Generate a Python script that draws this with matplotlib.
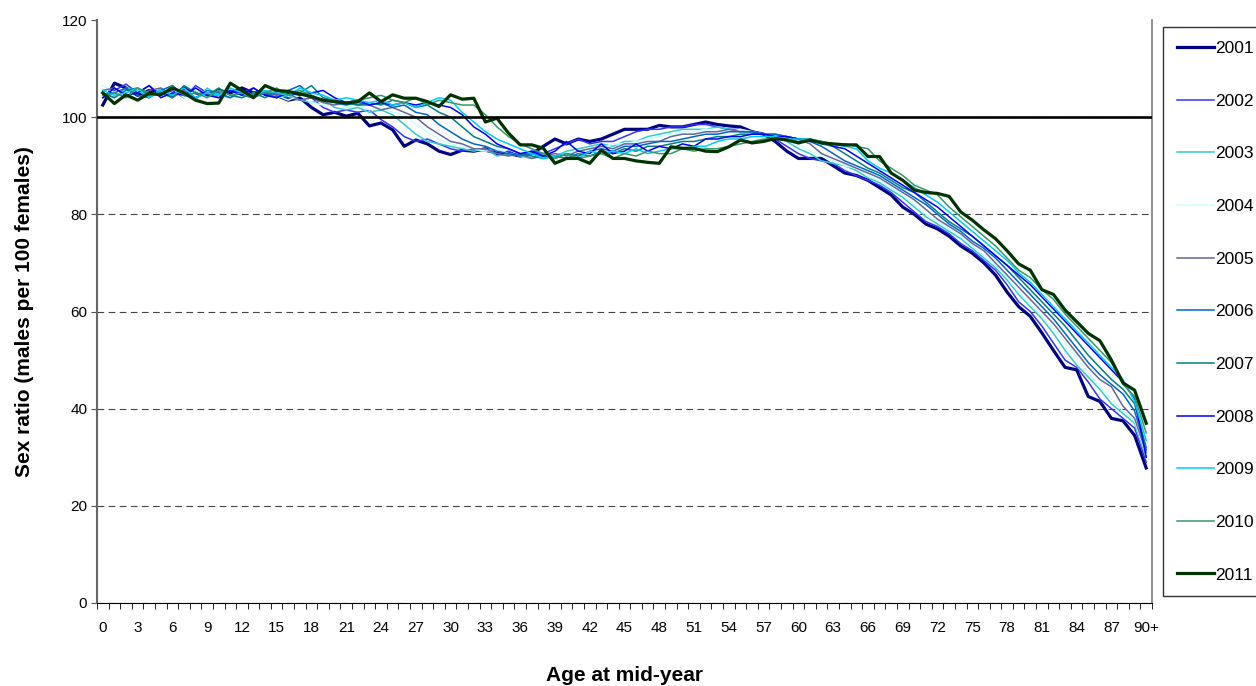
import numpy as np
import matplotlib.pyplot as plt
from matplotlib.lines import Line2D

# Sex ratio (males per 100 females) by single year of age, 0..90+
ages = list(range(91))
age_labels = [str(a) if a < 90 else "90+" for a in ages]
years = ["2001", "2002", "2003", "2004", "2005", "2006", "2007", "2008", "2009", "2010", "2011"]

r2001 = [102.5, 107.0, 106.0, 104.5, 105.5, 105.0, 104.5, 106.0, 105.0, 104.5,
         105.5, 105.0, 106.0, 105.0, 105.0, 104.5, 103.5, 104.0, 102.0, 100.5,
         101.0, 100.2, 100.8, 98.2, 98.8, 97.4, 94.0, 95.3, 94.5, 93.0,
         92.3, 93.2, 93.0, 93.5, 92.5, 92.5, 92.0, 92.5, 94.0, 95.5,
         94.5, 95.5, 95.0, 95.5, 96.5, 97.5, 97.5, 97.5, 98.3, 98.0,
         98.0, 98.5, 99.0, 98.5, 98.2, 98.0, 97.0, 96.5, 95.0, 93.0,
         91.5, 91.5, 91.5, 90.0, 88.5, 88.0, 87.0, 85.5, 84.0, 81.5,
         80.0, 78.0, 77.0, 75.5, 73.5, 72.0, 70.0, 67.5, 64.0, 61.0,
         59.0, 55.6, 52.0, 48.5, 48.0, 42.5, 41.5, 38.0, 37.5, 34.5, 27.8]

r2002 = [104.0, 105.5, 106.8, 105.0, 106.5, 104.5, 105.5, 104.0, 106.5, 105.0,
         104.5, 105.5, 105.0, 106.0, 104.5, 105.0, 104.0, 103.5, 104.0, 102.0,
         101.0, 101.5, 101.0, 101.5, 99.5, 98.0, 96.0, 95.0, 95.5, 94.5,
         93.5, 93.0, 93.5, 93.0, 92.5, 93.0, 92.0, 93.0, 92.5, 93.5,
         94.5, 95.5, 94.5, 95.0, 95.0, 96.0, 97.0, 97.5, 97.5, 98.0,
         98.0, 98.5, 98.5, 98.0, 97.5, 97.5, 97.0, 96.5, 95.5, 94.0,
         92.5, 91.5, 91.0, 90.5, 89.0, 88.0, 87.0, 86.0, 84.5, 82.5,
         80.5, 78.5, 77.5, 76.0, 74.0, 72.5, 70.5, 68.5, 65.5, 62.0,
         60.0, 57.0, 53.5, 50.0, 48.5, 45.5, 42.0, 40.0, 38.0, 36.0, 29.0]

r2003 = [105.0, 104.0, 106.0, 105.5, 104.0, 106.0, 104.5, 105.0, 103.5, 106.0,
         104.5, 104.0, 105.0, 104.5, 105.5, 104.0, 104.5, 103.5, 103.0, 103.5,
         102.0, 101.5, 102.0, 101.0, 101.5, 100.5, 98.5, 96.5, 95.0, 94.5,
         94.0, 93.5, 93.0, 93.5, 92.0, 92.5, 92.0, 91.5, 92.5, 92.0,
         93.0, 93.5, 94.0, 94.5, 94.0, 95.0, 95.0, 96.0, 96.5, 97.0,
         97.5, 97.5, 97.5, 98.0, 97.5, 97.0, 97.0, 96.5, 96.0, 95.0,
         93.5, 92.5, 91.0, 90.5, 90.0, 89.0, 87.5, 86.5, 85.0, 83.5,
         81.5, 79.5, 78.0, 76.5, 75.0, 73.0, 71.0, 69.0, 66.5, 63.5,
         61.0, 58.5, 55.5, 52.0, 49.0, 46.5, 44.0, 41.0, 39.0, 37.0, 30.0]

r2004 = [106.5, 105.0, 104.0, 106.0, 105.0, 104.5, 106.0, 104.0, 105.5, 104.0,
         105.5, 104.5, 104.0, 105.0, 104.0, 104.5, 103.5, 104.5, 103.0, 102.5,
         103.0, 102.0, 102.5, 101.5, 102.0, 101.0, 100.5, 98.5, 97.0, 95.5,
         94.5, 94.0, 93.5, 93.0, 93.5, 92.5, 92.0, 92.5, 91.5, 92.0,
         92.5, 93.0, 93.5, 93.5, 94.5, 94.5, 95.0, 95.5, 96.0, 96.5,
         97.0, 97.0, 97.5, 97.5, 97.0, 97.5, 97.0, 96.5, 96.0, 95.5,
         94.5, 93.0, 92.0, 91.0, 90.0, 89.5, 88.0, 87.0, 85.5, 84.0,
         82.0, 80.0, 78.5, 77.0, 75.5, 73.5, 71.5, 69.5, 67.0, 64.0,
         61.5, 59.0, 56.5, 53.5, 50.5, 47.5, 44.5, 42.0, 39.5, 37.5, 30.5]

r2005 = [105.5, 106.0, 104.5, 103.5, 105.5, 106.0, 104.0, 105.5, 104.0, 105.0,
         104.0, 105.5, 104.5, 104.0, 105.0, 104.5, 105.0, 103.5, 104.0, 103.0,
         102.5, 103.0, 102.5, 102.5, 101.5, 102.0, 101.0, 100.0, 98.0, 96.5,
         95.0, 94.5, 93.5, 93.5, 92.5, 92.0, 92.5, 91.5, 92.0, 92.5,
         92.0, 93.0, 93.5, 94.0, 93.5, 94.5, 94.5, 95.0, 95.0, 96.0,
         96.5, 96.5, 97.0, 97.0, 97.5, 97.0, 97.0, 96.5, 96.5, 96.0,
         95.5, 94.5, 92.5, 91.5, 90.5, 89.5, 88.5, 87.5, 86.0, 84.5,
         83.0, 81.0, 79.0, 77.5, 76.0, 74.0, 72.5, 70.0, 67.5, 65.0,
         62.5, 60.0, 57.5, 54.5, 51.5, 48.5, 46.0, 44.5, 40.5, 38.0, 31.0]

r2006 = [104.5, 105.0, 106.0, 104.5, 104.0, 105.5, 106.5, 104.5, 104.0, 105.5,
         105.0, 104.0, 105.5, 104.5, 105.0, 104.0, 105.5, 106.5, 104.5, 103.5,
         103.0, 102.5, 103.0, 102.5, 103.0, 102.0, 102.5, 101.0, 100.5, 98.5,
         97.0, 95.5, 94.5, 94.0, 93.0, 92.5, 92.0, 92.5, 92.0, 91.5,
         92.5, 92.0, 93.0, 93.5, 93.0, 94.0, 94.0, 94.5, 95.0, 95.0,
         95.5, 96.0, 96.5, 96.5, 97.0, 97.0, 97.0, 96.5, 96.5, 96.0,
         95.5, 95.0, 94.0, 92.5, 91.0, 90.0, 89.0, 88.0, 86.5, 85.0,
         83.5, 82.0, 80.0, 78.0, 76.5, 74.5, 73.0, 71.0, 68.5, 66.0,
         63.5, 61.0, 58.5, 55.5, 52.5, 49.5, 47.0, 45.0, 43.0, 39.5, 31.5]

r2007 = [105.0, 104.0, 105.5, 106.0, 104.5, 105.0, 104.0, 106.5, 105.0, 104.5,
         106.0, 104.5, 104.0, 105.0, 104.0, 105.5, 104.5, 105.0, 106.5, 104.0,
         103.5, 103.0, 102.5, 103.0, 102.5, 103.5, 103.0, 102.0, 102.5, 101.0,
         100.0, 98.0, 96.0, 95.0, 94.0, 93.5, 92.5, 92.0, 91.5, 92.0,
         91.5, 92.5, 92.0, 93.0, 92.5, 93.5, 93.0, 94.0, 94.0, 94.5,
         95.0, 95.0, 95.5, 96.0, 96.0, 96.5, 96.5, 96.5, 96.0, 96.0,
         95.5, 95.5, 94.5, 94.0, 92.5, 91.0, 89.5, 88.5, 87.0, 85.5,
         84.5, 82.5, 80.5, 78.5, 77.0, 75.5, 73.5, 71.5, 69.5, 67.0,
         64.5, 62.0, 59.5, 57.0, 54.0, 51.0, 48.5, 46.0, 44.0, 41.0, 32.0]

r2008 = [104.0, 106.0, 104.5, 105.0, 106.5, 104.0, 105.0, 104.5, 106.0, 104.5,
         104.0, 105.5, 104.5, 106.0, 104.5, 104.0, 105.0, 104.5, 105.0, 105.5,
         104.0, 103.0, 103.5, 102.5, 103.0, 102.5, 103.0, 102.5, 103.0, 102.5,
         102.0, 100.5, 98.0, 96.5, 94.5, 93.5, 92.5, 93.0, 92.0, 93.0,
         95.0, 93.0, 92.5, 94.5, 92.5, 93.0, 94.5, 93.0, 94.0, 93.5,
         94.5, 94.0, 95.5, 95.5, 96.0, 96.0, 96.5, 96.5, 96.0, 96.0,
         95.5, 95.0, 95.0, 94.0, 93.5, 92.0, 90.5, 89.0, 87.5, 86.0,
         84.5, 83.0, 81.5, 79.5, 77.5, 75.5, 73.5, 71.5, 69.5, 67.5,
         65.5, 63.0, 60.5, 58.0, 55.5, 53.0, 50.5, 48.0, 45.5, 42.0, 30.0]

r2009 = [105.5, 104.5, 105.0, 106.0, 104.0, 105.5, 104.5, 106.0, 104.0, 105.0,
         104.5, 106.0, 105.0, 104.0, 105.5, 105.0, 104.5, 106.0, 105.0, 104.5,
         103.5, 104.0, 103.5, 103.0, 103.5, 102.5, 103.0, 102.0, 103.0, 104.0,
         103.5, 101.0, 99.0, 97.0, 95.5, 94.5, 93.5, 92.5, 91.5, 92.0,
         92.5, 91.5, 93.0, 92.5, 93.0, 92.5, 93.5, 92.5, 93.0, 93.5,
         93.5, 94.0, 94.0, 95.0, 95.5, 95.5, 96.0, 96.0, 96.0, 95.5,
         95.5, 95.5, 95.0, 94.5, 94.0, 93.5, 91.0, 89.5, 88.5, 87.0,
         85.5, 84.0, 82.5, 80.5, 78.5, 76.5, 74.5, 72.5, 70.5, 68.0,
         66.0, 63.5, 61.0, 58.5, 56.0, 53.5, 51.0, 48.5, 46.0, 41.5, 33.5]

r2010 = [104.5, 105.0, 104.0, 106.0, 105.0, 104.5, 106.5, 104.5, 105.0, 104.0,
         105.5, 104.5, 105.0, 104.5, 105.0, 106.0, 104.5, 105.5, 104.5, 103.5,
         103.5, 103.0, 103.5, 104.0, 104.5, 103.5, 103.0, 104.0, 102.5, 103.5,
         103.0, 102.5, 102.5, 100.5, 98.0, 96.0, 94.5, 93.5, 92.5, 91.5,
         92.5, 91.5, 92.0, 92.5, 91.5, 92.5, 92.0, 93.0, 92.5, 92.5,
         93.5, 93.0, 93.5, 93.5, 94.0, 94.5, 95.0, 95.5, 95.5, 95.5,
         95.0, 95.5, 95.0, 94.5, 94.5, 94.0, 93.5, 91.0, 89.5, 88.0,
         86.0, 85.0, 84.0, 81.5, 79.5, 77.5, 75.5, 73.5, 71.0, 68.5,
         67.0, 64.5, 62.5, 59.5, 57.0, 54.5, 52.0, 49.5, 45.0, 42.5, 35.0]

r2011 = [105.0, 102.8, 104.6, 103.5, 104.9, 104.6, 106.0, 105.0, 103.5, 102.8,
         102.9, 107.0, 105.5, 104.0, 106.5, 105.5, 105.3, 104.8, 104.2, 103.5,
         103.2, 102.9, 103.2, 105.0, 103.2, 104.6, 103.9, 103.9, 103.2, 102.2,
         104.6, 103.7, 103.9, 99.0, 99.8, 96.7, 94.3, 94.3, 93.6, 90.5,
         91.5, 91.5, 90.5, 93.2, 91.5, 91.5, 91.0, 90.7, 90.5, 93.9,
         93.6, 93.6, 93.0, 92.9, 93.9, 95.3, 94.7, 95.0, 95.6, 95.3,
         94.7, 95.3, 94.7, 94.5, 94.3, 94.3, 91.9, 91.9, 88.5, 87.0,
         85.0, 84.5, 84.3, 83.7, 80.5, 78.8, 76.8, 75.0, 72.5, 69.8,
         68.5, 64.5, 63.5, 60.3, 57.9, 55.5, 54.0, 50.0, 45.3, 43.8, 37.0]

series = [r2001, r2002, r2003, r2004, r2005, r2006, r2007, r2008, r2009, r2010, r2011]
colors = ["#000080", "#3333FF", "#33CCCC", "#CCFFFF", "#666699", "#0066CC",
          "#008080", "#0000FF", "#00CCFF", "#339966", "#003300"]
widths = [2.3, 1.1, 1.1, 1.1, 1.1, 1.1, 1.1, 1.1, 1.1, 1.1, 2.3]
parity = 100

plt.rcParams['font.family'] = ['Liberation Sans', 'DejaVu Sans']

fig = plt.figure(figsize=(12.56, 6.86), dpi=100)
ax = fig.add_axes([97/1256, 1 - 603/686, (1152-97)/1256, (603-20)/686])

x = np.arange(len(ages))
for vals, col, lw in zip(series, colors, widths):
    ax.plot(x, vals, color=col, lw=lw, zorder=3)
ax.axhline(parity, color="black", lw=1.9, zorder=4)

ax.set_xlim(-0.5, len(ages) - 0.5)
ax.set_ylim(0, 120)
ax.set_yticks(range(0, 121, 20))
ax.grid(axis="y", color="#444444", lw=0.8, linestyle=(0, (6, 4)))
ax.get_ygridlines()[-1].set_visible(False)  # no grid line along the top
ax.set_axisbelow(True)

ax.set_xticks(x[::3])
ax.set_xticklabels(age_labels[::3])
ax.set_xticks(np.arange(-0.5, len(ages)), minor=True)
ax.tick_params(axis="x", which="major", length=0, pad=13, labelsize=11)
ax.tick_params(axis="x", which="minor", length=4, direction="out", color="black")
ax.tick_params(axis="y", length=4, direction="out", color="#555555", labelsize=11, pad=3)

ax.spines["top"].set_visible(False)
ax.spines["right"].set_color("#888888")
ax.spines["right"].set_linewidth(1.3)
ax.spines["left"].set_color("#666666")
ax.spines["left"].set_linewidth(1.5)
ax.spines["bottom"].set_color("black")

ax.set_xlabel("Age at mid-year", fontsize=15, fontweight="bold", labelpad=22)
ax.set_ylabel("Sex ratio (males per 100 females)", fontsize=15, fontweight="bold", labelpad=20)

handles = [Line2D([], [], color=c, lw=w) for c, w in zip(colors, widths)]
leg = fig.legend(handles, years, loc="upper left",
                 bbox_to_anchor=(1163/1256, 1 - 27/686),
                 fontsize=12.5, frameon=True, fancybox=False,
                 edgecolor="black", labelspacing=2.16, handlelength=2.13,
                 handletextpad=0.1, borderpad=0.8, borderaxespad=0)
leg.get_frame().set_linewidth(1.0)

fig.savefig("out.png", dpi=100)
